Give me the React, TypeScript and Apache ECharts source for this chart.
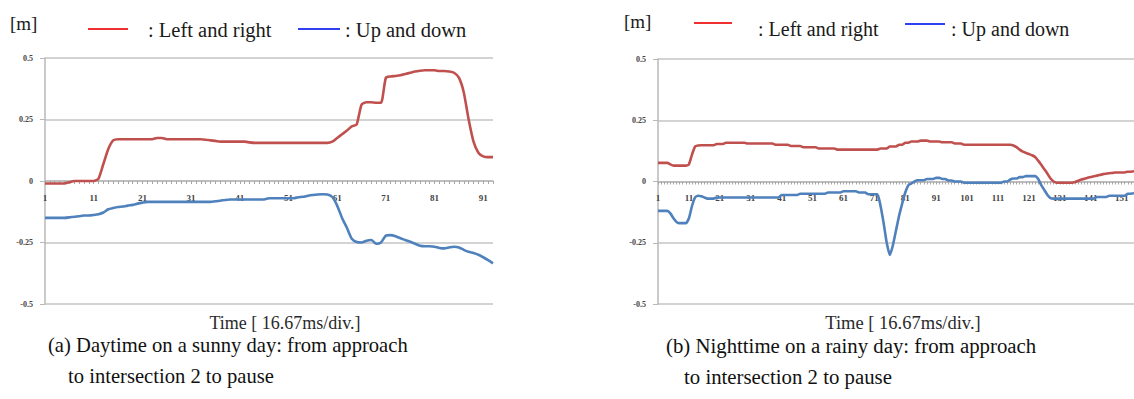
import React, { useEffect, useRef } from "react";
import * as echarts from "echarts";

const leftRed = [
  -0.01, -0.01, -0.01, -0.01, -0.01, -0.005, 0, 0, 0, 0,
  0, 0.01, 0.07, 0.13, 0.165, 0.17, 0.17, 0.17, 0.17, 0.17,
  0.17, 0.17, 0.17, 0.175, 0.175, 0.17, 0.17, 0.17, 0.17, 0.17,
  0.17, 0.17, 0.17, 0.168, 0.165, 0.163, 0.16, 0.16, 0.16, 0.16,
  0.16, 0.16, 0.157, 0.155, 0.155, 0.155, 0.155, 0.155, 0.155, 0.155,
  0.155, 0.155, 0.155, 0.155, 0.155, 0.155, 0.155, 0.155, 0.155, 0.16,
  0.175, 0.19, 0.205, 0.222, 0.23, 0.31, 0.32, 0.32, 0.318, 0.318,
  0.42, 0.425, 0.427, 0.43, 0.435, 0.44, 0.445, 0.448, 0.45, 0.45,
  0.45, 0.447, 0.447, 0.445, 0.44, 0.42, 0.36, 0.25, 0.16, 0.115,
  0.1, 0.097, 0.097,
];

const leftBlue = [
  -0.15, -0.15, -0.15, -0.15, -0.15, -0.148, -0.145, -0.143, -0.14, -0.14,
  -0.138, -0.135, -0.128, -0.115, -0.11, -0.106, -0.104, -0.1, -0.097, -0.092,
  -0.088, -0.085, -0.085, -0.085, -0.085, -0.085, -0.085, -0.085, -0.085, -0.085,
  -0.085, -0.085, -0.085, -0.085, -0.085, -0.082, -0.08, -0.077, -0.075, -0.075,
  -0.075, -0.075, -0.075, -0.075, -0.075, -0.075, -0.07, -0.07, -0.07, -0.07,
  -0.07, -0.07, -0.066, -0.064, -0.06, -0.057, -0.055, -0.054, -0.055, -0.065,
  -0.1, -0.15, -0.19, -0.235, -0.248, -0.25, -0.243, -0.24, -0.255, -0.25,
  -0.222, -0.22, -0.225, -0.233, -0.24, -0.247, -0.255, -0.263, -0.265, -0.265,
  -0.267, -0.272, -0.274, -0.27, -0.267, -0.27, -0.28, -0.288, -0.293, -0.3,
  -0.31, -0.322, -0.335,
];

const rightRed = [
  0.076, 0.076, 0.076, 0.076, 0.07, 0.065, 0.065, 0.065, 0.065, 0.065,
  0.07, 0.11, 0.143, 0.147, 0.148, 0.148, 0.148, 0.148, 0.148, 0.153,
  0.153, 0.153, 0.158, 0.158, 0.158, 0.158, 0.158, 0.158, 0.158, 0.155,
  0.155, 0.155, 0.155, 0.155, 0.155, 0.155, 0.155, 0.155, 0.15, 0.15,
  0.15, 0.15, 0.15, 0.145, 0.145, 0.145, 0.145, 0.14, 0.14, 0.14,
  0.14, 0.14, 0.135, 0.135, 0.135, 0.135, 0.135, 0.135, 0.13, 0.13,
  0.13, 0.13, 0.13, 0.13, 0.13, 0.13, 0.13, 0.13, 0.13, 0.13,
  0.13, 0.13, 0.135, 0.135, 0.135, 0.143, 0.143, 0.143, 0.15, 0.15,
  0.158, 0.158, 0.163, 0.163, 0.163, 0.167, 0.167, 0.167, 0.163, 0.163,
  0.163, 0.163, 0.16, 0.16, 0.16, 0.16, 0.155, 0.155, 0.155, 0.15,
  0.15, 0.15, 0.15, 0.15, 0.15, 0.15, 0.15, 0.15, 0.15, 0.15,
  0.15, 0.15, 0.15, 0.15, 0.15, 0.147, 0.14, 0.13, 0.122, 0.117,
  0.112, 0.107, 0.1, 0.085, 0.068, 0.05, 0.032, 0.012, 0, -0.005,
  -0.005, -0.005, -0.005, -0.005, -0.005, -0.002, 0.003, 0.008, 0.011, 0.015,
  0.018, 0.021, 0.024, 0.027, 0.03, 0.032, 0.034, 0.035, 0.037, 0.037,
  0.037, 0.037, 0.04, 0.04, 0.042,
];

const rightBlue = [
  -0.12, -0.12, -0.12, -0.12, -0.13, -0.15, -0.165, -0.17, -0.17, -0.17,
  -0.15, -0.1, -0.065, -0.058, -0.06, -0.065, -0.07, -0.07, -0.07, -0.065,
  -0.065, -0.065, -0.065, -0.065, -0.065, -0.065, -0.065, -0.065, -0.065, -0.065,
  -0.065, -0.065, -0.065, -0.065, -0.065, -0.065, -0.065, -0.065, -0.065, -0.065,
  -0.055, -0.055, -0.055, -0.055, -0.055, -0.055, -0.05, -0.05, -0.05, -0.05,
  -0.05, -0.05, -0.05, -0.05, -0.05, -0.045, -0.045, -0.045, -0.045, -0.045,
  -0.04, -0.04, -0.04, -0.04, -0.04, -0.045, -0.045, -0.045, -0.052, -0.052,
  -0.052, -0.052, -0.1, -0.17, -0.25, -0.3, -0.26, -0.2, -0.14, -0.09,
  -0.045, -0.015, -0.008, 0, 0.005, 0.005, 0.005, 0.01, 0.01, 0.01,
  0.015, 0.015, 0.01, 0.01, 0.004, 0.004, 0, 0, 0, -0.005,
  -0.005, -0.005, -0.005, -0.005, -0.005, -0.005, -0.005, -0.005, -0.005, -0.005,
  -0.005, -0.005, 0, 0, 0.008, 0.012, 0.012, 0.018, 0.018, 0.022,
  0.022, 0.022, 0.022, 0.01, -0.015, -0.035, -0.055, -0.068, -0.07, -0.07,
  -0.07, -0.07, -0.07, -0.07, -0.07, -0.07, -0.07, -0.07, -0.07, -0.07,
  -0.07, -0.07, -0.063, -0.063, -0.063, -0.063, -0.058, -0.058, -0.058, -0.058,
  -0.058, -0.058, -0.05, -0.05, -0.048,
];

const leftCategories = leftRed.map((_, i) => String(i + 1));
const rightCategories = rightRed.map((_, i) => String(i + 1));

const legendLabels = [": Left and right", ": Up and down"];
const unitLabel = "[m]";
const timeLabel = "Time [ 16.67ms/div.]";
const captionA = ["(a) Daytime on a sunny day: from approach", "to intersection 2 to pause"];
const captionB = ["(b) Nighttime on a rainy day: from approach", "to intersection 2 to pause"];

const SERIF = "'Liberation Serif', 'DejaVu Serif', serif";
const RED = "#c0504d";
const BLUE = "#4f81bd";
const GRID_GRAY = "#c4c4c4";

function makeX(gridIndex: number, data: string[], offset: number) {
  return {
    type: "category",
    gridIndex,
    data,
    boundaryGap: false,
    position: "bottom",
    offset,
    axisLine: { onZero: false, lineStyle: { color: "#b8b8b8", width: 1.5 } },
    axisTick: { show: true, interval: 0, length: 3, lineStyle: { color: "#a8a8a8" } },
    axisLabel: {
      interval: 9,
      fontSize: 9,
      fontFamily: SERIF,
      fontWeight: "bold",
      color: "#444",
      margin: 12,
    },
    splitLine: { show: false },
  };
}

function makeY(gridIndex: number) {
  return {
    type: "value",
    gridIndex,
    min: -0.5,
    max: 0.5,
    interval: 0.25,
    axisLine: { show: true, lineStyle: { color: "#b8b8b8", width: 1.5 } },
    axisTick: { show: true, length: 5, lineStyle: { color: "#b8b8b8" } },
    axisLabel: {
      fontSize: 8,
      fontFamily: SERIF,
      fontWeight: "bold",
      color: "#444",
      margin: 12,
      formatter: (v: number) => String(v),
    },
    splitLine: { show: true, lineStyle: { color: GRID_GRAY, width: 1.5 } },
  };
}

function txt(x: number, y: number, text: string, size: number, align = "left", color = "#1a1a1a") {
  return {
    type: "text",
    x,
    y,
    style: {
      text,
      fontSize: size,
      fontFamily: SERIF,
      fill: color,
      align,
      verticalAlign: "middle",
    },
  };
}

function seg(x1: number, x2: number, y: number, color: string) {
  return {
    type: "line",
    shape: { x1, y1: y, x2, y2: y },
    style: { stroke: color, lineWidth: 2 },
  };
}

export default function App() {
  const ref = useRef<HTMLDivElement>(null);
  useEffect(() => {
    if (!ref.current) return;
    const chart = echarts.init(ref.current, undefined, { renderer: "svg" });
    const lineSeries = (name: string, data: number[], color: string, idx: number) => ({
      type: "line",
      name,
      data,
      xAxisIndex: idx,
      yAxisIndex: idx,
      showSymbol: false,
      smooth: 0.2,
      lineStyle: { color, width: 2.6 },
      itemStyle: { color },
    });
    chart.setOption({
      animation: false,
      backgroundColor: "#ffffff",
      grid: [
        { left: 45, top: 58, width: 448, height: 246 },
        { left: 658, top: 59, width: 476, height: 245 },
      ],
      xAxis: [makeX(0, leftCategories, -123), makeX(1, rightCategories, -122.5)],
      yAxis: [makeY(0), makeY(1)],
      series: [
        lineSeries("Left and right (a)", leftRed, RED, 0),
        lineSeries("Up and down (a)", leftBlue, BLUE, 0),
        lineSeries("Left and right (b)", rightRed, RED, 1),
        lineSeries("Up and down (b)", rightBlue, BLUE, 1),
      ],
      graphic: [
        txt(10, 23, unitLabel, 19),
        seg(88, 128, 29, "#f03030"),
        txt(148, 30, legendLabels[0], 20.5),
        seg(298, 340, 29, "#3040f0"),
        txt(345, 30, legendLabels[1], 20.5),
        txt(624, 21, unitLabel, 19),
        seg(694, 732, 23, "#f03030"),
        txt(758, 29, legendLabels[0], 20),
        seg(905, 945, 24, "#3040f0"),
        txt(951, 29, legendLabels[1], 20),
        txt(285, 323, timeLabel, 18, "center", "#2a2a2a"),
        txt(903, 323, timeLabel, 18.5, "center", "#2a2a2a"),
        txt(48, 345, captionA[0], 20.6, "left", "#111"),
        txt(68, 376, captionA[1], 20.6, "left", "#111"),
        txt(666, 345, captionB[0], 20.8, "left", "#111"),
        txt(684, 376, captionB[1], 20.8, "left", "#111"),
      ],
    });
    return () => chart.dispose();
  }, []);
  return (
    <div
      ref={ref}
      style={{ position: "absolute", left: 0, top: 0, width: 1134, height: 399 }}
    />
  );
}
